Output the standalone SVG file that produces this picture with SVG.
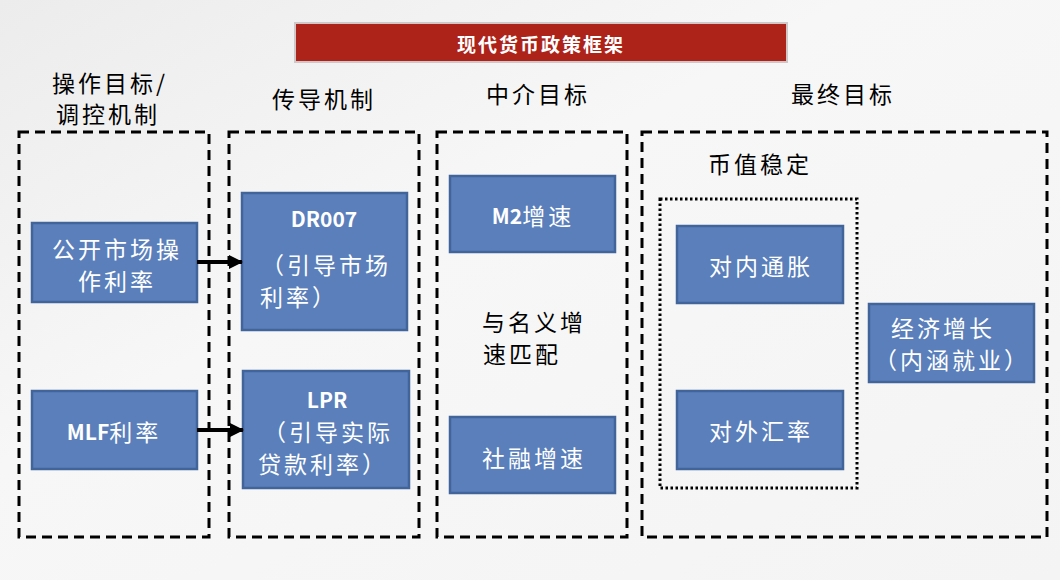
<svg xmlns="http://www.w3.org/2000/svg" width="1060" height="580" viewBox="0 0 1060 580">
<defs>
<linearGradient id="bg" x1="0" y1="0" x2="1" y2="1">
<stop offset="0" stop-color="#ececec"/>
<stop offset="0.4" stop-color="#f7f7f7"/>
<stop offset="1" stop-color="#f4f4f4"/>
</linearGradient>
<marker id="ah" markerUnits="userSpaceOnUse" markerWidth="14" markerHeight="14" refX="13" refY="7" orient="auto">
<path d="M0,0 L14,7 L0,14 Z" fill="#000"/>
</marker>
</defs>
<style>
text{font-family:"Noto Sans CJK SC","Noto Sans",sans-serif;}
.col{fill:none;stroke:#000;stroke-width:3;stroke-dasharray:10 6;}
.dot{fill:none;stroke:#000;stroke-width:3;stroke-dasharray:2.5 2.5;}
.box{fill:#5a7fbb;stroke:#41659b;stroke-width:2.5;}
.bt{fill:#fff;font-size:23px;letter-spacing:3px;text-anchor:middle;dominant-baseline:central;}
.b{font-size:21px;font-weight:bold;letter-spacing:0;}
.ht{fill:#000;font-size:23px;letter-spacing:3px;text-anchor:middle;dominant-baseline:central;}
.conn{stroke:#000;stroke-width:4;fill:none;}
</style>
<rect width="1060" height="580" fill="url(#bg)"/>
<g id="title">
<rect x="295" y="23" width="492" height="39" fill="#ad2219" stroke="#d0c8c8" stroke-width="2"/>
<text x="541" y="43" fill="#fff" font-size="19" font-weight="bold" letter-spacing="2" text-anchor="middle" dominant-baseline="central">现代货币政策框架</text>
</g>
<g id="col1">
<rect class="col" x="19" y="132" width="190" height="405"/>
<text class="ht"><tspan x="110" y="82">操作目标/</tspan><tspan x="108" y="113">调控机制</tspan></text>
</g>
<g id="col2">
<rect class="col" x="229" y="132" width="190" height="405"/>
<text class="ht" x="324" y="98">传导机制</text>
</g>
<g id="col3">
<rect class="col" x="437" y="132" width="190" height="405"/>
<text class="ht" x="538" y="93">中介目标</text>
<text class="ht"><tspan x="534" y="321">与名义增</tspan><tspan x="522" y="353">速匹配</tspan></text>
</g>
<g id="col4">
<rect class="col" x="642" y="132" width="405" height="405"/>
<text class="ht" x="843" y="93">最终目标</text>
<text class="ht" x="760" y="163">币值稳定</text>
<rect class="dot" x="660" y="199" width="197" height="289"/>
</g>
<g id="n-omo">
<rect class="box" x="32" y="223" width="165" height="79"/>
<text class="bt"><tspan x="117" y="248">公开市场操</tspan><tspan x="117" y="280">作利率</tspan></text>
</g>
<g id="n-mlf">
<rect class="box" x="32" y="391" width="165" height="78"/>
<text class="bt" x="114" y="431"><tspan class="b">MLF</tspan>利率</text>
</g>
<g id="n-dr007">
<rect class="box" x="242" y="193" width="165" height="137"/>
<text class="bt"><tspan class="b" x="324" y="218">DR007</tspan><tspan x="326" y="264">（引导市场</tspan><tspan x="299" y="296">利率）</tspan></text>
</g>
<g id="n-lpr">
<rect class="box" x="243" y="371" width="166" height="117"/>
<text class="bt"><tspan class="b" x="327" y="399">LPR</tspan><tspan x="328" y="431">（引导实际</tspan><tspan x="323" y="463">贷款利率）</tspan></text>
</g>
<g id="n-m2">
<rect class="box" x="450" y="176" width="165" height="76"/>
<text class="bt" x="533" y="215"><tspan class="b">M2</tspan>增速</text>
</g>
<g id="n-tsf">
<rect class="box" x="450" y="417" width="165" height="76"/>
<text class="bt" x="534" y="457">社融增速</text>
</g>
<g id="n-cpi">
<rect class="box" x="677" y="226" width="166" height="77"/>
<text class="bt" x="761" y="265">对内通胀</text>
</g>
<g id="n-fx">
<rect class="box" x="677" y="391" width="166" height="78"/>
<text class="bt" x="761" y="430">对外汇率</text>
</g>
<g id="n-growth">
<rect class="box" x="869" y="304" width="165" height="78"/>
<text class="bt"><tspan x="943" y="327">经济增长</tspan><tspan x="952" y="359">（内涵就业）</tspan></text>
</g>
<g id="connectors">
<line class="conn" x1="197" y1="262" x2="242" y2="262" marker-end="url(#ah)"/>
<line class="conn" x1="197" y1="430" x2="243" y2="430" marker-end="url(#ah)"/>
</g>
</svg>
